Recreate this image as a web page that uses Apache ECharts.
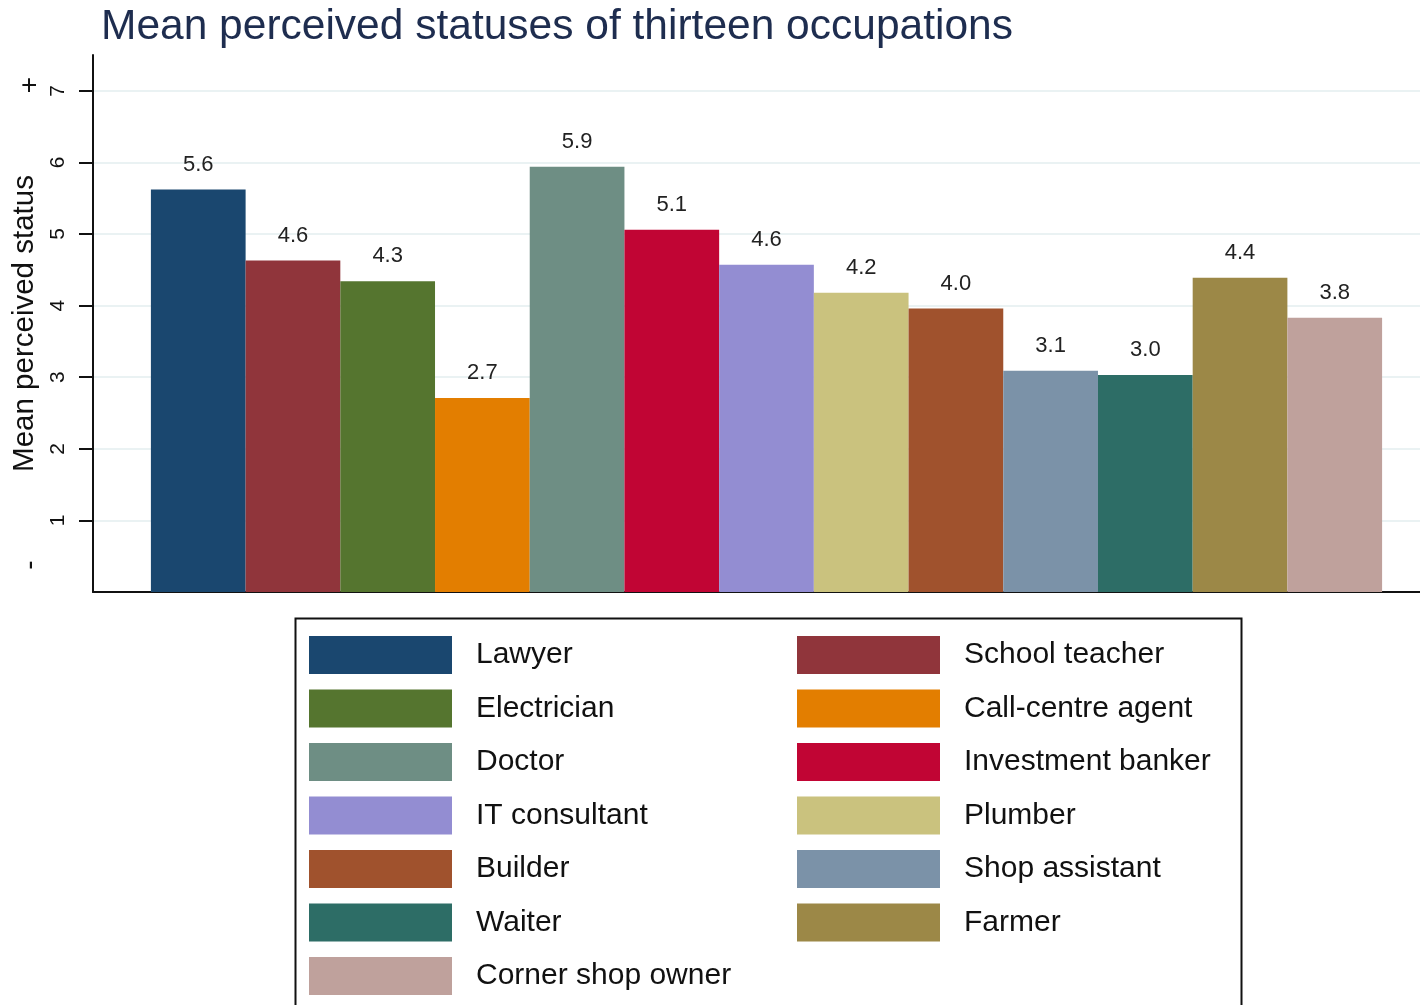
<!DOCTYPE html>
<html>
<head>
<meta charset="utf-8">
<script src="https://cdn.jsdelivr.net/npm/echarts@6/dist/echarts.min.js"></script>
<style>
html,body{margin:0;padding:0;background:#fff;}
#chart{width:1420px;height:1005px;}
</style>
</head>
<body>
<div id="chart"></div>
<script>
var occupations = ['Lawyer','School teacher','Electrician','Call-centre agent','Doctor','Investment banker','IT consultant','Plumber','Builder','Shop assistant','Waiter','Farmer','Corner shop owner'];
var meanStatus = [5.62, 4.63, 4.34, 2.71, 5.94, 5.06, 4.57, 4.18, 3.96, 3.09, 3.03, 4.39, 3.83];
var colors = ['#1a476f','#90353b','#55752f','#e37e00','#6e8e84','#c10534','#938dd2','#cac27e','#a0522d','#7b92a8','#2d6d66','#9c8847','#bfa19c'];
var yTicks = [1,2,3,4,5,6,7];
var legendLeft = ['Lawyer','Electrician','Doctor','IT consultant','Builder','Waiter','Corner shop owner'];
var legendRight = ['School teacher','Call-centre agent','Investment banker','Plumber','Shop assistant','Farmer'];

var FONT = '"Liberation Sans", Arial, sans-serif';
var chart = echarts.init(document.getElementById('chart'));

var series = occupations.map(function(name, i){
  return {
    name: name,
    type: 'bar',
    xAxisIndex: 1, yAxisIndex: 1,
    data: [meanStatus[i]],
    barGap: '0%',
    barCategoryGap: '5.8%',
    itemStyle: {color: colors[i]},
    label: {
      show: true, position: 'top', distance: 14,
      fontSize: 22, color: '#222', fontFamily: FONT,
      formatter: function(p){ return p.value.toFixed(1); }
    }
  };
});

var legendCommon = {
  orient: 'vertical',
  itemWidth: 143, itemHeight: 38, itemGap: 15.5,
  icon: 'rect',
  selectedMode: false,
  textStyle: {fontSize: 30, color: '#111', fontFamily: FONT, padding: [0,0,0,19]}
};

chart.setOption({
  animation: false,
  backgroundColor: '#fff',
  title: {
    text: 'Mean perceived statuses of thirteen occupations',
    left: 96, top: 1,
    textStyle: {fontSize: 42.5, fontWeight: 'normal', color: '#1e2d4f', fontFamily: FONT}
  },
  grid: [
    {left: 93, top: 55, bottom: 413, right: 0, containLabel: false},
    {left: 113, top: 55, bottom: 413, right: 0, containLabel: false}
  ],
  xAxis: [
    {
      type: 'category', data: [''], gridIndex: 0,
      axisLine: {show: true, lineStyle: {color: '#111', width: 2}},
      axisTick: {show: false}, axisLabel: {show: false}, splitLine: {show: false}
    },
    {
      type: 'category', data: [''], gridIndex: 1, show: false
    }
  ],
  yAxis: [
    {
      type: 'value', min: 0, max: 7.5, interval: 1, gridIndex: 0,
      name: 'Mean perceived status', nameLocation: 'middle', nameGap: 47,
      nameTextStyle: {fontSize: 29.5, color: '#111', fontFamily: FONT},
      axisLine: {show: true, lineStyle: {color: '#111', width: 2}},
      axisTick: {show: true, length: 14, customValues: yTicks, lineStyle: {color: '#111', width: 2}},
      axisLabel: {rotate: 90, margin: 24, fontSize: 21, color: '#111', fontFamily: FONT, customValues: yTicks},
      splitLine: {show: true, lineStyle: {color: '#eaf2f3', width: 2}}
    },
    {
      type: 'value', min: 0, max: 7.5, interval: 1, gridIndex: 1, show: false,
      splitLine: {show: false}
    }
  ],
  legend: [
    Object.assign({left: 304, top: 631, data: legendLeft}, legendCommon),
    Object.assign({left: 792, top: 631, data: legendRight}, legendCommon)
  ],
  graphic: [
    {type: 'rect', left: 293, top: 616, shape: {width: 946, height: 420}, style: {fill: 'none', stroke: '#111', lineWidth: 2}, z: 0},
    {type: 'text', x: 30, y: 85, rotation: Math.PI/2, style: {text: '+', fill: '#111', font: '28px ' + FONT, textAlign: 'center', textVerticalAlign: 'middle'}},
    {type: 'text', x: 30, y: 565, rotation: Math.PI/2, style: {text: '-', fill: '#111', font: '28px ' + FONT, textAlign: 'center', textVerticalAlign: 'middle'}}
  ],
  series: series
});
</script>
</body>
</html>
